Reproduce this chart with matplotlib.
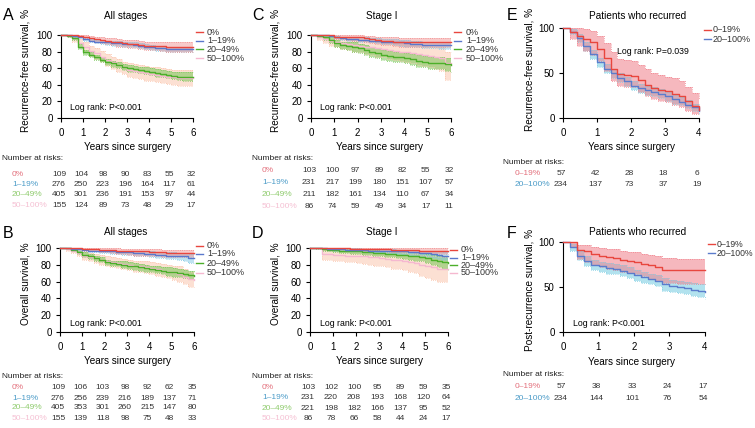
import matplotlib
matplotlib.use('Agg')
import matplotlib.pyplot as plt
from matplotlib.lines import Line2D
from matplotlib.transforms import ScaledTranslation, blended_transform_factory

plt.rcParams['font.family'] = ['Liberation Sans', 'DejaVu Sans']

# ---------------- data ----------------
T6 = [0, 0.25, 0.5, 0.75, 1, 1.25, 1.5, 1.75, 2, 2.25, 2.5, 2.75, 3,
      3.25, 3.5, 3.75, 4, 4.25, 4.5, 4.75, 5, 5.25, 5.5, 5.75, 6]
T4 = [0, 0.2, 0.4, 0.6, 0.8, 1.0, 1.2, 1.4, 1.6, 1.8, 2.0, 2.2, 2.4,
      2.6, 2.8, 3.0, 3.2, 3.4, 3.6, 3.8, 4.0]

GROUPS4 = ['0%', '1–19%', '20–49%', '50–100%']
GROUPS2 = ['0–19%', '20–100%']

# Panel A: recurrence-free survival, all stages
A_surv = [
    [100,100,100,99,98,96,95,94,93,92,91,90,89,89,88,87,87,87,87,86,86,86,86,86,86],
    [100,100,99,97,95,93,92,92,91,90,90,89,89,88,87,86,85,84,84,83,83,83,83,83,83],
    [100,99,96,86,79,76,73,70,68,66,64,62,60,59,58,57,56,54,53,52,51,50,50,50,50],
    [100,99,96,90,85,81,78,74,70,67,64,61,58,57,55,54,53,52,51,50,49,48,48,48,48],
]
A_lo = [
    [100,100,100,98,96,93,92,90,89,88,86,85,84,84,83,82,82,82,81,80,80,80,80,80,80],
    [100,100,98,96,93,91,90,89,88,87,87,86,86,85,84,83,82,81,81,80,80,79,79,79,79],
    [100,98,94,83,76,73,70,67,64,62,60,58,56,55,54,53,52,50,49,48,47,46,45,45,44],
    [100,97,92,85,79,75,71,67,63,59,56,53,50,48,47,45,44,43,42,41,40,39,39,38,38],
]
A_hi = [
    [100,100,100,100,100,99,98,97,96,96,95,94,94,94,93,92,92,92,92,91,91,91,91,91,91],
    [100,100,100,99,97,95,94,94,93,93,93,92,92,91,90,89,88,87,87,86,86,86,86,86,86],
    [100,100,98,89,82,79,76,73,71,69,67,65,64,63,62,61,60,59,58,57,56,55,55,55,56],
    [100,100,99,95,91,87,84,81,77,74,71,68,66,65,64,63,62,61,60,59,58,58,58,58,58],
]

# Panel B: overall survival, all stages
B_surv = [
    [100,100,100,100,99,99,99,98,98,98,97,97,97,96,96,96,95,95,95,94,94,94,94,94,94],
    [100,100,99,99,98,97,97,96,96,96,95,95,95,94,94,93,93,92,92,91,91,90,90,88,88],
    [100,100,98,95,92,90,88,86,83,82,81,80,79,78,77,76,75,74,73,72,71,70,69,68,67],
    [100,99,97,94,91,89,88,86,84,83,82,81,80,79,78,77,76,75,73,72,71,69,66,63,62],
]
B_lo = [
    [100,100,100,99,97,97,96,95,95,94,93,93,92,91,91,91,90,90,89,89,89,89,89,89,89],
    [100,100,98,97,96,95,95,94,94,93,93,92,92,91,91,90,89,88,88,87,87,86,85,82,82],
    [100,99,96,93,89,87,85,83,80,79,78,76,75,74,73,72,71,70,69,67,66,65,64,63,62],
    [100,97,94,90,86,84,82,80,78,77,76,75,74,72,71,70,69,67,65,64,62,60,57,54,54],
]
B_hi = [
    [100,100,100,100,100,100,100,100,100,100,100,99,99,99,99,99,99,99,98,98,98,98,98,98,98],
    [100,100,100,100,99,99,99,98,98,98,97,97,97,96,96,96,96,95,95,95,95,94,94,93,93],
    [100,100,100,97,95,93,91,89,86,85,84,84,83,82,81,80,79,78,77,77,76,75,74,73,72],
    [100,100,100,98,95,94,93,92,90,89,88,87,86,85,85,84,83,82,81,80,79,78,75,71,70],
]

# Panel C: recurrence-free survival, stage I
C_surv = [
    [100,100,100,100,98,98,98,97,97,96,95,94,93,93,92,91,91,91,91,91,91,91,91,91,91],
    [100,100,100,99,97,96,95,95,94,94,93,93,92,92,91,91,90,89,89,88,88,88,88,88,88],
    [100,99,97,94,90,88,87,86,84,82,80,78,76,75,74,73,72,71,69,68,66,66,66,65,64],
    [100,97,95,93,91,90,89,88,87,86,85,84,83,82,81,80,79,78,77,76,75,74,72,66,66],
]
C_lo = [
    [100,100,100,99,95,95,94,93,93,92,90,89,88,88,87,86,86,86,85,85,85,85,85,85,85],
    [100,100,99,97,95,94,93,93,92,92,91,90,89,89,88,87,86,85,85,84,84,84,83,83,83],
    [100,98,94,90,86,83,82,80,78,76,74,72,70,69,68,67,66,64,62,61,59,59,59,57,56],
    [100,94,90,87,85,83,82,80,79,77,76,74,73,71,70,69,67,66,64,63,61,59,57,46,46],
]
C_hi = [
    [100,100,100,100,100,100,100,100,100,99,99,98,97,97,97,96,96,96,96,96,96,96,96,96,96],
    [100,100,100,100,99,98,98,98,97,97,96,96,95,95,95,94,94,93,93,92,92,92,92,92,92],
    [100,100,100,97,94,92,92,91,89,88,86,84,82,81,80,79,78,77,76,75,73,73,73,72,72],
    [100,100,100,99,97,96,96,95,95,94,94,93,92,92,91,91,90,89,89,88,87,86,85,80,80],
]

# Panel D: overall survival, stage I
D_surv = [
    [100,100,100,100,100,100,100,99,99,99,99,99,99,99,98,98,98,98,98,97,97,97,97,97,97],
    [100,100,100,99,99,99,98,98,98,98,97,97,97,97,96,96,96,95,95,94,94,93,92,91,90],
    [100,100,99,98,98,97,97,96,96,95,95,94,94,93,93,92,92,91,90,89,88,86,84,83,82],
    [100,100,93,93,92,92,91,91,90,90,89,89,88,87,86,86,85,83,82,80,78,77,75,75,75],
]
D_lo = [
    [100,100,100,100,99,99,99,98,98,97,97,97,97,96,95,95,95,95,94,94,94,93,93,93,93],
    [100,100,99,98,97,97,96,96,96,95,95,94,94,94,93,93,92,91,91,90,89,88,87,86,86],
    [100,99,97,96,95,94,94,93,93,92,92,91,90,89,89,88,87,86,85,84,82,80,77,75,73],
    [100,100,86,86,84,84,83,83,82,81,80,79,78,77,75,75,74,72,70,67,64,62,60,60,60],
]
D_hi = [
    [100,100,100,100,100,100,100,100,100,100,100,100,100,100,100,100,100,100,100,100,100,100,100,100,100],
    [100,100,100,100,100,100,100,100,100,99,99,99,99,99,99,98,98,98,98,97,97,97,96,95,95],
    [100,100,100,100,100,99,99,99,99,98,98,98,97,97,97,96,96,95,95,94,93,92,91,90,89],
    [100,100,98,98,98,98,97,97,97,97,96,96,96,95,95,95,94,93,93,92,90,90,89,89,89],
]

# Panel E: recurrence-free survival, patients who recurred
E_surv = [
    [100,96,91,88,85,77,67,55,49,48,47,42,37,33,31,30,27,24,19,13,9],
    [100,96,89,80,71,62,55,50,45,41,36,33,31,29,27,24,21,18,15,12,8],
]
E_lo = [
    [100,88,80,74,70,63,52,41,36,35,34,29,24,21,19,18,15,12,8,4,3],
    [100,93,85,75,66,57,50,45,40,36,31,28,26,24,22,19,16,14,11,8,5],
]
E_hi = [
    [100,100,100,99,97,91,83,73,66,65,63,59,54,50,48,46,44,41,35,28,21],
    [100,99,93,85,76,67,60,55,50,46,41,38,36,34,32,29,26,23,20,16,12],
]

# Panel F: post-recurrence survival, patients who recurred
F_surv = [
    [100,100,91,90,87,84,83,82,80,79,78,76,74,72,69,69,69,69,69,69,69],
    [100,94,85,79,75,73,71,70,68,66,63,61,59,57,53,51,50,49,47,46,45],
]
F_lo = [
    [100,95,81,78,75,72,70,69,67,66,64,62,59,57,54,54,53,53,53,53,53],
    [100,90,80,73,69,67,65,64,62,60,57,55,53,51,46,45,43,42,40,39,37],
]
F_hi = [
    [100,100,97,97,95,93,92,92,90,89,89,87,86,84,82,82,81,81,81,81,81],
    [100,98,90,84,80,78,77,76,74,72,69,67,65,63,60,58,57,56,54,53,53],
]

# Number at risk tables
A_risk = [[109,104,98,90,83,55,32], [276,250,223,196,164,117,61],
          [405,301,236,191,153,97,44], [155,124,89,73,48,29,17]]
B_risk = [[109,106,103,98,92,62,35], [276,256,239,216,189,137,71],
          [405,353,301,260,215,147,80], [155,139,118,98,75,48,33]]
C_risk = [[103,100,97,89,82,55,32], [231,217,199,180,151,107,57],
          [211,182,161,134,110,67,34], [86,74,59,49,34,17,11]]
D_risk = [[103,102,100,95,89,59,35], [231,220,208,193,168,120,64],
          [221,198,182,166,137,95,52], [86,78,66,58,44,24,17]]
E_risk = [[57,42,28,18,6], [234,137,73,37,19]]
F_risk = [[57,38,33,24,17], [234,144,101,76,54]]

# ---------------- styles ----------------
LINE4 = ['#e8463e', '#5a78cc', '#4caf2a', '#f5b8d0']
BAND4 = ['#f08a8a', '#80c8e4', '#78c858', '#fbc2a8']
BALPHA4 = [0.45, 0.5, 0.55, 0.5]
LAB4 = ['#e3707c', '#4c9cc8', '#8fcb6d', '#f5c0d3']
LINE2 = ['#e8463e', '#5b7ccc']
BAND2 = ['#f07f8a', '#7fcfe4']
BALPHA2 = [0.55, 0.6]
LAB2 = ['#e3707c', '#4c9cc8']

W, H = 755, 428
fig = plt.figure(figsize=(W / 100, H / 100), dpi=100)


def fy(y):
    return 1 - y / H


def ftext(x, y, s, **kw):
    fig.text(x / W, fy(y), s, **kw)


def make_axes(x0, x1, ytop, ybot, xmax, yticks):
    ax = fig.add_axes([x0 / W, 1 - ybot / H, (x1 - x0) / W, (ybot - ytop) / H])
    ax.patch.set_alpha(0)
    for s in ['top', 'right']:
        ax.spines[s].set_visible(False)
    for s in ['left', 'bottom']:
        ax.spines[s].set_linewidth(0.8)
    ax.set_xlim(0, xmax)
    ax.set_ylim(0, 100)
    ax.set_xticks(list(range(xmax + 1)))
    ax.set_yticks(yticks)
    ax.tick_params(direction='out', length=3, width=0.8, labelsize=7)
    ax.tick_params(axis='x', pad=4)
    ax.tick_params(axis='y', pad=3)
    return ax


def draw_curves(ax, t, surv, lo, hi, lcols, bcols, balphas):
    n = len(surv)
    order = list(range(n))[::-1]
    for i in order:
        ax.fill_between(t, lo[i], hi[i], step='post', color=bcols[i],
                        alpha=balphas[i], lw=0, zorder=1)
        ax.step(t, lo[i], where='post', color=bcols[i], lw=0.6, ls=':', zorder=1.5,
                clip_on=False)
        ax.step(t, hi[i], where='post', color=bcols[i], lw=0.6, ls=':', zorder=1.5,
                clip_on=False)
    for i in order:
        ax.step(t, surv[i], where='post', color=lcols[i], lw=1.0, zorder=3,
                clip_on=False)


def legend(hx, tx, ys, labels, cols, fs=6.5):
    for y, lab, c in zip(ys, labels, cols):
        fig.add_artist(Line2D([hx / W, (hx + 7) / W], [fy(y), fy(y)],
                              color=c, lw=1.0, transform=fig.transFigure))
        ftext(tx, y, lab, fontsize=fs, va='center', ha='left', color='#333333')


def risk_table(ax, hx, hy, lx, rows_y, labels, labcols, data, xs):
    ftext(hx, hy, 'Number at risks:', fontsize=6, va='center', ha='left',
          color='#222222')
    tr = blended_transform_factory(ax.transData, fig.transFigure) + \
        ScaledTranslation(-2.0 / 100, 0, fig.dpi_scale_trans)
    for y, lab, c, row in zip(rows_y, labels, labcols, data):
        ftext(lx, y, lab, fontsize=6, va='center', ha='left', color=c)
        for x, v in zip(xs, row):
            fig.text(x, fy(y), str(v), fontsize=6, va='center', ha='center',
                     color='#333333', transform=tr)


def panel(letter, lx, ly, title, tx, ty, ylab, ylx, yly, xlx, xly):
    ftext(lx, ly, letter, fontsize=11.5, va='center', ha='left')
    ftext(tx, ty, title, fontsize=7.2, va='center', ha='center')
    ftext(ylx, yly, ylab, fontsize=7.2, va='center', ha='center', rotation=90)
    ftext(xlx, xly, 'Years since surgery', fontsize=7.2, va='center', ha='center')


yt6 = [0, 20, 40, 60, 80, 100]
yt3 = [0, 50, 100]
X6 = [0, 1, 2, 3, 4, 5, 6]
X4 = [0, 1, 2, 3, 4]

# ---- A ----
axA = make_axes(61, 193, 35, 118, 6, yt6)
draw_curves(axA, T6, A_surv, A_lo, A_hi, LINE4, BAND4, BALPHA4)
panel('A', 3, 15, 'All stages', 126, 16, 'Recurrence-free survival, %', 25, 70, 128, 147)
ftext(70, 108, 'Log rank: P<0.001', fontsize=6.3, va='center', ha='left')
legend(196, 207, [32.3, 40.7, 49.3, 58.3], GROUPS4, LINE4)
risk_table(axA, 2, 158, 12, [174, 184.5, 195, 205], GROUPS4, LAB4, A_risk, X6)

# ---- B ----
axB = make_axes(60, 194, 248, 332, 6, yt6)
draw_curves(axB, T6, B_surv, B_lo, B_hi, LINE4, BAND4, BALPHA4)
panel('B', 3, 233, 'All stages', 126, 232, 'Overall survival, %', 25, 284, 128, 361)
ftext(70, 323, 'Log rank: P<0.001', fontsize=6.3, va='center', ha='left')
legend(196, 207, [245.7, 254, 263.3, 272.7], GROUPS4, LINE4)
risk_table(axB, 2, 376, 12, [387.7, 398, 407.7, 418.3], GROUPS4, LAB4, B_risk, X6)

# ---- C ----
axC = make_axes(311, 451, 35, 118, 6, yt6)
draw_curves(axC, T6, C_surv, C_lo, C_hi, LINE4, BAND4, BALPHA4)
panel('C', 252, 15, 'Stage I', 382, 16, 'Recurrence-free survival, %', 275, 70, 380, 147)
ftext(320, 108, 'Log rank: P<0.001', fontsize=6.3, va='center', ha='left')
legend(454, 466, [32.3, 40.7, 49.3, 58.3], GROUPS4, LINE4)
risk_table(axC, 252, 158, 262, [171, 183, 195, 206], GROUPS4, LAB4, C_risk, X6)

# ---- D ----
axD = make_axes(310, 448, 248, 332, 6, yt6)
draw_curves(axD, T6, D_surv, D_lo, D_hi, LINE4, BAND4, BALPHA4)
panel('D', 252, 233, 'Stage I', 382, 232, 'Overall survival, %', 275, 284, 379, 361)
ftext(320, 323, 'Log rank: P<0.001', fontsize=6.3, va='center', ha='left')
legend(450, 461, [250, 257.6, 265.1, 272.7], GROUPS4, LINE4)
risk_table(axD, 252, 376, 262, [387.3, 397.7, 408.3, 419], GROUPS4, LAB4, D_risk, X6)

# ---- E ----
axE = make_axes(563, 699, 28, 118, 4, yt3)
draw_curves(axE, T4, E_surv, E_lo, E_hi, LINE2, BAND2, BALPHA2)
panel('E', 507, 15, 'Patients who recurred', 638, 16, 'Recurrence-free survival, %', 529, 69, 632, 147)
ftext(617, 52, 'Log rank: P=0.039', fontsize=6.3, va='center', ha='left')
legend(704, 713, [30, 39], GROUPS2, LINE2)
risk_table(axE, 503, 162, 515, [173, 184], GROUPS2, LAB2, E_risk, X4)

# ---- F ----
axF = make_axes(563, 705, 242, 332, 4, yt3)
draw_curves(axF, T4, F_surv, F_lo, F_hi, LINE2, BAND2, BALPHA2)
panel('F', 507, 233, 'Patients who recurred', 638, 232, 'Post-recurrence survival, %', 530, 290, 632, 362)
ftext(573, 323, 'Log rank: P<0.001', fontsize=6.3, va='center', ha='left')
legend(708, 717, [244.3, 253.3], GROUPS2, LINE2, fs=6.2)
risk_table(axF, 503, 375, 515, [387, 398], GROUPS2, LAB2, F_risk, X4)

fig.savefig('out.png', dpi=100)
